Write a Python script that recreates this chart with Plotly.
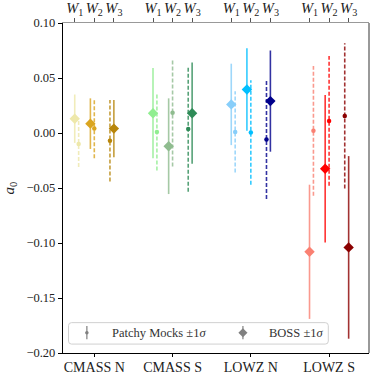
import plotly.graph_objects as go

# ---- data ----
groups = ["CMASS N", "CMASS S", "LOWZ N", "LOWZ S"]
window_labels = ["<i>W</i><sub>1</sub>", "<i>W</i><sub>2</sub>", "<i>W</i><sub>3</sub>"]

# BOSS a0 and 1-sigma per window, one entry per group
boss_w1 = [0.013, 0.018, 0.026, -0.108]
boss_w2 = [0.0085, -0.012, 0.0395, -0.0325]
boss_w3 = [0.004, 0.018, 0.029, -0.104]
boss_err_w1 = [0.022, 0.041, 0.037, 0.061]
boss_err_w2 = [0.023, 0.0435, 0.0375, 0.067]
boss_err_w3 = [0.026, 0.046, 0.046, 0.083]

# Patchy mocks mean and 1-sigma per window
patchy_w1 = [-0.010, 0.001, 0.001, 0.002]
patchy_w2 = [0.004, 0.0185, 0.0005, 0.011]
patchy_w3 = [-0.007, 0.0036, -0.006, 0.0155]
patchy_err_w1 = [0.021, 0.035, 0.037, 0.059]
patchy_err_w2 = [0.027, 0.049, 0.0475, 0.059]
patchy_err_w3 = [0.037, 0.057, 0.054, 0.066]

y_ticks = [0.10, 0.05, 0.00, -0.05, -0.10, -0.15, -0.20]

# ---- styling ----
colors = [
    ["#eee8aa", "#daa520", "#b8860b"],
    ["#90ee90", "#8fbc8f", "#2e8b57"],
    ["#87cefa", "#00bfff", "#00008b"],
    ["#fa8072", "#ff0000", "#8b0000"],
]
win_offsets = [-0.25, 0.0, 0.25]
boss_offsets = [-0.25, -0.05, 0.25]
patchy_offsets = [-0.20, 0.0, 0.20]
FONT = "Liberation Serif, Times New Roman, DejaVu Serif, serif"

boss_vals = [boss_w1, boss_w2, boss_w3]
boss_errs = [boss_err_w1, boss_err_w2, boss_err_w3]
patchy_vals = [patchy_w1, patchy_w2, patchy_w3]
patchy_errs = [patchy_err_w1, patchy_err_w2, patchy_err_w3]

fig = go.Figure()

for g in range(len(groups)):
    for w in range(3):
        c = colors[g][w]
        xb = g + boss_offsets[w]
        xp = g + patchy_offsets[w]
        bv, be = boss_vals[w][g], boss_errs[w][g]
        pv, pe = patchy_vals[w][g], patchy_errs[w][g]
        fig.add_trace(go.Scatter(x=[xp, xp], y=[pv - pe, pv + pe], mode="lines",
                                 line=dict(color=c, width=1.6, dash="4px,2px"),
                                 opacity=0.8, showlegend=False, hoverinfo="skip"))
        fig.add_trace(go.Scatter(x=[xb, xb], y=[bv - be, bv + be], mode="lines",
                                 line=dict(color=c, width=1.6),
                                 opacity=0.8, showlegend=False, hoverinfo="skip"))
for g in range(len(groups)):
    for w in range(3):
        c = colors[g][w]
        fig.add_trace(go.Scatter(x=[g + patchy_offsets[w]], y=[patchy_vals[w][g]], mode="markers",
                                 marker=dict(color=c, size=4.5, symbol="circle"),
                                 showlegend=False))
        fig.add_trace(go.Scatter(x=[g + boss_offsets[w]], y=[boss_vals[w][g]], mode="markers",
                                 marker=dict(color=c, size=8, symbol="diamond"),
                                 showlegend=False))

# top axis carrier (invisible)
fig.add_trace(go.Scatter(x=[0], y=[0], xaxis="x2", mode="markers",
                         marker=dict(opacity=0), showlegend=False, hoverinfo="skip"))

# legend symbols on an overlay axis spanning the plot area
fig.add_trace(go.Scatter(x=[0.078], y=[0.0615], xaxis="x3", yaxis="y3", mode="markers",
                         marker=dict(color="gray", size=3.5),
                         error_y=dict(type="constant", value=0.02, color="gray", thickness=1.2, width=0),
                         showlegend=False, hoverinfo="skip"))
fig.add_trace(go.Scatter(x=[0.588], y=[0.0615], xaxis="x3", yaxis="y3", mode="markers",
                         marker=dict(color="gray", size=7, symbol="diamond"),
                         error_y=dict(type="constant", value=0.02, color="gray", thickness=1.2, width=0),
                         showlegend=False, hoverinfo="skip"))

# legend box with rounded corners
x0, x1, y0, y1, rx, ry = 0.018, 0.867, 0.027, 0.092, 0.01, 0.009
path = (f"M {x0+rx},{y0} L {x1-rx},{y0} Q {x1},{y0} {x1},{y0+ry} L {x1},{y1-ry} "
        f"Q {x1},{y1} {x1-rx},{y1} L {x0+rx},{y1} Q {x0},{y1} {x0},{y1-ry} "
        f"L {x0},{y0+ry} Q {x0},{y0} {x0+rx},{y0} Z")
fig.add_shape(type="path", path=path, xref="paper", yref="paper",
              line=dict(color="#d0d0d0", width=1), fillcolor="rgba(255,255,255,0.8)", layer="below")
fig.add_shape(type="line", xref="paper", yref="paper", x0=1, x1=1, y0=0, y1=1,
              line=dict(color="#999999", width=2))

fig.add_annotation(x=0.152, y=0.06, xref="paper", yref="paper", xanchor="left", yanchor="middle",
                   text="Patchy Mocks ±1<i>σ</i>", showarrow=False,
                   font=dict(family=FONT, size=12.5, color="#333333"))
fig.add_annotation(x=0.668, y=0.06, xref="paper", yref="paper", xanchor="left", yanchor="middle",
                   text="BOSS ±1<i>σ</i>", showarrow=False,
                   font=dict(family=FONT, size=12.5, color="#333333"))

xr = [-0.4, 3.51]
fig.update_layout(
    width=374, height=374,
    margin=dict(l=63, r=5, t=23, b=21),
    paper_bgcolor="white", plot_bgcolor="white",
    font=dict(family=FONT, color="#222222"),
    hovermode=False,
    xaxis=dict(range=xr, tickmode="array", tickvals=list(range(len(groups))), ticktext=groups,
               showgrid=False, zeroline=False, showline=True, linecolor="black", linewidth=1.3,
               ticks="outside", ticklen=3, tickcolor="black", tickfont=dict(size=14, family=FONT),
               automargin=False, ticklabelstandoff=-2),
    xaxis2=dict(range=xr, overlaying="x", side="top", tickmode="array",
                tickvals=[g + o for g in range(len(groups)) for o in win_offsets],
                ticktext=window_labels * len(groups),
                showgrid=False, zeroline=False, showline=True, linecolor="#999999", linewidth=1.3,
                ticks="outside", ticklen=3.5, tickcolor="#555555", tickfont=dict(size=14.5, family=FONT),
                automargin=False),
    xaxis3=dict(range=[0, 1], overlaying="x", visible=False, domain=[0, 1]),
    yaxis=dict(range=[-0.20, 0.10], tickmode="array", tickvals=y_ticks, tickformat=".2f",
               showgrid=False, zeroline=False, showline=True, linecolor="black", linewidth=1.3,
               ticks="outside", ticklen=4, tickcolor="black", tickfont=dict(size=12.5, family=FONT),
               automargin=False,
               title=dict(text="<i>a</i><sub>0</sub>", font=dict(size=15, family=FONT), standoff=8)),
    yaxis3=dict(range=[0, 1], overlaying="y", visible=False),
)

fig.write_html("out.html", config={"displayModeBar": False},
               post_script="document.body.style.margin='0';document.body.style.padding='0';")
